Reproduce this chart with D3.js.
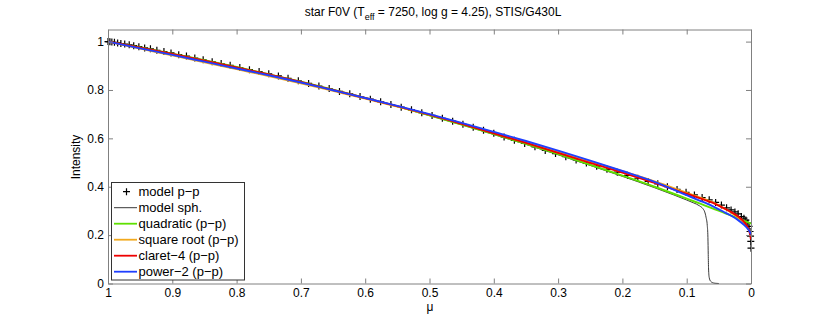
<!DOCTYPE html>
<html><head><meta charset="utf-8">
<script src="https://cdn.jsdelivr.net/npm/d3@7"></script>
<style>
body{margin:0;background:#fff}
text{font-family:"Liberation Sans",Arial,Helvetica,sans-serif}
</style>
</head><body>
<svg id="c" width="830" height="319"></svg>
<script>
// ---- data ----
const xTicks = [1, 0.9, 0.8, 0.7, 0.6, 0.5, 0.4, 0.3, 0.2, 0.1, 0];
const xTickLabels = ["1", "0.9", "0.8", "0.7", "0.6", "0.5", "0.4", "0.3", "0.2", "0.1", "0"];
const yTicks = [0, 0.2, 0.4, 0.6, 0.8, 1];
const yTickLabels = ["0", "0.2", "0.4", "0.6", "0.8", "1"];

// model p-p (markers)
const ppMu = [1, 0.999, 0.997, 0.994, 0.99, 0.985, 0.98, 0.974, 0.967, 0.96, 0.952, 0.943, 0.934, 0.924, 0.913, 0.902, 0.89, 0.878, 0.865, 0.852, 0.838, 0.824, 0.81, 0.795, 0.78, 0.765, 0.75, 0.735, 0.72, 0.704, 0.688, 0.672, 0.656, 0.64, 0.624, 0.608, 0.592, 0.576, 0.56, 0.544, 0.528, 0.512, 0.496, 0.48, 0.464, 0.448, 0.432, 0.416, 0.4, 0.384, 0.368, 0.352, 0.336, 0.32, 0.304, 0.288, 0.272, 0.256, 0.24, 0.224, 0.208, 0.192, 0.176, 0.16, 0.145, 0.13, 0.115, 0.101, 0.088, 0.076, 0.065, 0.055, 0.046, 0.038, 0.031, 0.025, 0.02, 0.015, 0.011, 0.008, 0.005, 0.003, 0.0015, 0.0007, 0.0003, 0];
const ppI = [1.000, 1.000, 0.9995, 0.998, 0.997, 0.9945, 0.992, 0.990, 0.9865, 0.983, 0.979, 0.974, 0.970, 0.964, 0.959, 0.953, 0.946, 0.940, 0.932, 0.925, 0.917, 0.909, 0.902, 0.893, 0.884, 0.876, 0.867, 0.858, 0.848, 0.838, 0.827, 0.816, 0.806, 0.794, 0.784, 0.773, 0.762, 0.751, 0.740, 0.729, 0.718, 0.706, 0.695, 0.683, 0.671, 0.658, 0.646, 0.633, 0.621, 0.606, 0.592, 0.579, 0.565, 0.550, 0.537, 0.524, 0.511, 0.498, 0.485, 0.472, 0.460, 0.447, 0.435, 0.422, 0.412, 0.400, 0.389, 0.377, 0.366, 0.355, 0.346, 0.335, 0.324, 0.313, 0.304, 0.296, 0.288, 0.277, 0.270, 0.262, 0.250, 0.236, 0.215, 0.196, 0.174, 0.146];

// model sph. (thin black line)
const sphMu = [1, 0.95, 0.9, 0.85, 0.8, 0.75, 0.7, 0.65, 0.6, 0.55, 0.5, 0.45, 0.4, 0.35, 0.3, 0.25, 0.2, 0.15, 0.12, 0.1, 0.09, 0.08, 0.075, 0.072, 0.07, 0.068, 0.067, 0.0665, 0.066, 0.065, 0.063, 0.06, 0.056, 0.05];
const sphI = [1.000, 0.976, 0.950, 0.923, 0.894, 0.864, 0.833, 0.800, 0.766, 0.731, 0.694, 0.656, 0.616, 0.575, 0.532, 0.488, 0.443, 0.396, 0.366, 0.345, 0.334, 0.321, 0.310, 0.296, 0.275, 0.240, 0.190, 0.120, 0.060, 0.025, 0.010, 0.004, 0.001, 0.000];

// fitted laws sampled at these mu
const fitMu = [1, 0.95, 0.9, 0.85, 0.8, 0.75, 0.7, 0.65, 0.6, 0.55, 0.5, 0.45, 0.4, 0.35, 0.3, 0.25, 0.2, 0.15, 0.1, 0.08, 0.06, 0.04, 0.03, 0.02, 0.01, 0.005, 0.002, 0];
const quadI   = [1.000, 0.976, 0.950, 0.923, 0.895, 0.865, 0.834, 0.801, 0.767, 0.732, 0.695, 0.657, 0.618, 0.577, 0.535, 0.491, 0.446, 0.400, 0.351, 0.331, 0.311, 0.290, 0.280, 0.270, 0.259, 0.253, 0.250, 0.247];
const sqrtI   = [1.000, 0.971, 0.943, 0.914, 0.886, 0.858, 0.828, 0.796, 0.764, 0.731, 0.698, 0.662, 0.624, 0.585, 0.545, 0.505, 0.464, 0.422, 0.375, 0.356, 0.336, 0.308, 0.292, 0.273, 0.246, 0.229, 0.214, 0.194];
const claretI = [1.000, 0.975, 0.949, 0.921, 0.893, 0.864, 0.833, 0.800, 0.767, 0.733, 0.698, 0.660, 0.621, 0.581, 0.540, 0.499, 0.458, 0.416, 0.371, 0.353, 0.334, 0.308, 0.294, 0.277, 0.252, 0.232, 0.210, 0.182];
const powerI  = [1.000, 0.972, 0.945, 0.917, 0.889, 0.861, 0.831, 0.799, 0.767, 0.734, 0.700, 0.664, 0.627, 0.589, 0.549, 0.508, 0.465, 0.420, 0.365, 0.343, 0.320, 0.293, 0.279, 0.262, 0.240, 0.226, 0.215, 0.203];

const legendLabels = ["model p\u2212p", "model sph.", "quadratic (p\u2212p)", "square root (p\u2212p)", "claret\u22124 (p\u2212p)", "power\u22122 (p\u2212p)"];
const legendColors = ["#000000", "#222222", "#5fe000", "#f2a91d", "#ee0000", "#1f3fff"];

// ---- drawing ----
const svg = d3.select("#c");
const L = 108, R = 751, T = 29.5, B = 283.5;
const x = d3.scaleLinear().domain([1, 0]).range([L, R]);
const y = d3.scaleLinear().domain([0, 1.05]).range([B, T]);
const axisColor = "#808080";

// title
const title = svg.append("text").attr("x", 433).attr("y", 16).attr("text-anchor", "middle")
  .attr("font-size", 12).attr("fill", "#000");
title.append("tspan").text("star F0V (T");
title.append("tspan").attr("dy", 4).attr("font-size", 9).text("eff");
title.append("tspan").attr("dy", -4).text(" = 7250, log g = 4.25), STIS/G430L");

// data
const line = d3.line().x(d => x(d[0])).y(d => y(d[1])).curve(d3.curveMonotoneX);

const gData = svg.append("g");
// markers
gData.selectAll("path.pp").data(ppMu.map((m, i) => [m, ppI[i]])).join("path")
  .attr("class", "pp")
  .attr("d", d => `M${x(d[0]) - 3.5},${y(d[1])}H${x(d[0]) + 3.5}M${x(d[0])},${y(d[1]) - 3.5}V${y(d[1]) + 3.5}`)
  .attr("stroke", "#000").attr("stroke-width", 1.2).attr("fill", "none");

gData.append("path").datum(sphMu.map((m, i) => [m, sphI[i]])).attr("d", line)
  .attr("fill", "none").attr("stroke", legendColors[1]).attr("stroke-width", 0.9);

[[quadI, 2], [sqrtI, 3], [claretI, 4], [powerI, 5]].forEach(([arr, ci]) => {
  gData.append("path").datum(fitMu.map((m, i) => [m, arr[i]])).attr("d", line)
    .attr("fill", "none").attr("stroke", legendColors[ci]).attr("stroke-width", 1.9);
});

// axes
function styleAxis(g) {
  g.selectAll("path.domain").attr("stroke", axisColor);
  g.selectAll(".tick line").attr("stroke", axisColor);
  g.selectAll(".tick text").attr("fill", "#000").attr("font-size", 12)
    .attr("font-family", '"Liberation Sans",Arial,Helvetica,sans-serif');
}
svg.append("g").attr("transform", `translate(0,${B})`)
  .call(d3.axisBottom(x).tickValues(xTicks).tickFormat((d, i) => xTickLabels[i]).tickSizeInner(-5).tickSizeOuter(0).tickPadding(5))
  .call(styleAxis);
svg.append("g").attr("transform", `translate(0,${T})`)
  .call(d3.axisTop(x).tickValues(xTicks).tickFormat("").tickSizeInner(-5).tickSizeOuter(0))
  .call(styleAxis);
svg.append("g").attr("transform", `translate(${L},0)`)
  .call(d3.axisLeft(y).tickValues(yTicks).tickFormat((d, i) => yTickLabels[i]).tickSizeInner(-5).tickSizeOuter(0).tickPadding(4))
  .call(styleAxis);
svg.append("g").attr("transform", `translate(${R},0)`)
  .call(d3.axisRight(y).tickValues(yTicks).tickFormat("").tickSizeInner(-5).tickSizeOuter(0))
  .call(styleAxis);
svg.selectAll(".domain").attr("stroke-width", 1);

// axis labels
svg.append("text").attr("x", 430).attr("y", 311).attr("text-anchor", "middle")
  .attr("font-size", 12).text("\u03bc");
svg.append("text").attr("transform", "translate(80,157) rotate(-90)").attr("text-anchor", "middle")
  .attr("font-size", 12).text("Intensity");

// legend
const lg = svg.append("g");
lg.append("rect").attr("x", 111.5).attr("y", 182.5).attr("width", 133).attr("height", 97.5)
  .attr("fill", "#fff").attr("stroke", "#333").attr("stroke-width", 1);
legendLabels.forEach((lab, i) => {
  const cy = 191.7 + i * 16;
  if (i === 0) {
    lg.append("path").attr("d", `M${126.5 - 3.5},${cy}H${126.5 + 3.5}M126.5,${cy - 3.5}V${cy + 3.5}`)
      .attr("stroke", "#000").attr("stroke-width", 1.2);
  } else {
    lg.append("line").attr("x1", 114).attr("x2", 137).attr("y1", cy).attr("y2", cy)
      .attr("stroke", legendColors[i]).attr("stroke-width", i === 1 ? 0.9 : 1.8);
  }
  lg.append("text").attr("x", 138.5).attr("y", cy + 4.5).attr("font-size", 13).attr("fill", "#000").text(lab);
});
</script>
</body></html>
